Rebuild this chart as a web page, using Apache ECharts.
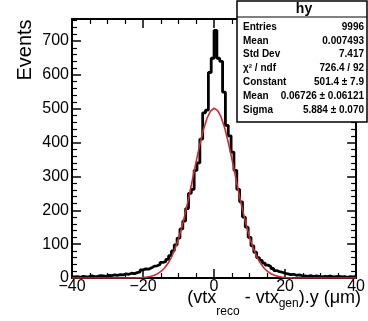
<!DOCTYPE html>
<html><head><meta charset="utf-8">
<script src="https://cdn.jsdelivr.net/npm/echarts@6/dist/echarts.min.js"></script>
<style>html,body{margin:0;padding:0;background:#fff}#c{width:368px;height:321px}</style>
</head><body><div id="c"></div>
<script>
// ---- data ----
const binLow = -40;
const binHigh = 40;
const counts = [
  3,4,2,5,3,4,6,4,5,7,6,5,8,7,9,8,10,9,12,
  11,14,13,16,18,24,27,26,30,35,36,40,46,48,55,
  66,80,98,118,145,168,205,250,262,318,340,410,488,496,607,649,731,649,640,549,451,420,372,318,262,225,180,150,120,95,76,60,52,
  44,38,34,28,22,19,17,14,12,10,11,8,9,7,
  6,5,7,4,6,5,3,5,4,6,3,4,5,3,4,2,4,3,5
];
const fitX = [-40,-30,-25,-22,-21,-20,-19,-18,-17,-16,-15,-14,-13,-12,-11,-10,-9,-8,-7,-6,-5,-4,-3,-2,-1,0,
  1,2,3,4,5,6,7,8,9,10,11,12,13,14,15,16,17,18,19,20,21,22,25,30,40];
const fitY = [0,0,0.05,0.4,0.8,1.5,2.6,4.5,7.5,12.0,18.9,28.8,42.6,61.2,85.5,116.0,153.0,195.9,243.7,294.7,346.1,394.9,437.7,471.4,493.2,501.4,
  495.1,475.1,442.9,401.0,352.8,301.6,250.4,202.1,158.4,120.6,89.2,64.1,44.7,30.4,20.0,12.8,8.0,4.8,2.8,1.6,0.9,0.5,0.05,0,0];
const xMin = -40, xMax = 40, xStep = 20;
const yMin = 0, yMax = 765, yStep = 100;
const histName = 'hy';
const statLabels = ['Entries','Mean','Std Dev','\u03C7\u00B2 / ndf','Constant','Mean','Sigma'];
const statValues = ['9996','0.007493','7.417','726.4 / 92','501.4 \u00B1 7.9','0.06726 \u00B1 0.06121','5.884 \u00B1 0.070'];
const yTitle = 'Events';
const xTitle = '(vtx{a|reco} - vtx{b|gen}).y (\u03BCm)';

// ---- build ----
const bw = (binHigh - binLow) / counts.length;
const histData = counts.map((v, i) => [binLow + i * bw, v]);
histData.push([binHigh, counts[counts.length - 1]]);
const fitData = fitX.map((x, i) => [x, fitY[i]]);

const FF = 'Liberation Sans';
function axisBase(pos, isX, showLabel) {
  return {
    type: 'value', position: pos,
    min: isX ? xMin : yMin, max: isX ? xMax : yMax, interval: isX ? xStep : yStep,
    axisLine: {show: true, onZero: false, lineStyle: {color: '#000', width: 2}},
    axisTick: {show: true, inside: true, length: 9, lineStyle: {color: '#000', width: 1.5}},
    minorTick: {show: true, splitNumber: isX ? 4 : 5, length: 5, lineStyle: {color: '#000', width: 1.2}},
    splitLine: {show: false},
    axisLabel: {show: showLabel, color: '#000', fontSize: 16, fontFamily: FF, margin: isX ? 1 : 3,
      showMaxLabel: isX ? true : false,
      formatter: v => String(v).replace('-', '\u2212')}
  };
}

const graphics = [
  {type: 'text', x: 25, y: 50, rotation: Math.PI / 2, z: 100,
   style: {text: yTitle, fontSize: 20, fontFamily: FF, fill: '#000', textAlign: 'center', textVerticalAlign: 'middle'}},
  {type: 'text', x: 361, y: 298, z: 100,
   style: {text: xTitle, fontSize: 18, fontFamily: FF, fill: '#000', textAlign: 'right', textVerticalAlign: 'middle',
     rich: {a: {fontSize: 12, fontFamily: FF, padding: [28, 0, 0, 0]}, b: {fontSize: 12, fontFamily: FF, padding: [12, 0, 0, 0]}}}},
  {type: 'rect', z: 100, shape: {x: 237, y: 1, width: 130, height: 121}, style: {fill: '#fff', stroke: '#000', lineWidth: 1.5}},
  {type: 'line', z: 101, shape: {x1: 237, y1: 17, x2: 367, y2: 17}, style: {stroke: '#000', lineWidth: 1}},
  {type: 'text', z: 101, x: 304, y: 9, style: {text: histName, fontSize: 14, fontWeight: 'bold', fontFamily: FF, fill: '#000', textAlign: 'center', textVerticalAlign: 'middle'}}
];
statLabels.forEach((l, i) => {
  const y = 27 + i * 13.8;
  graphics.push({type: 'text', z: 101, x: 243, y: y, style: {text: l, fontSize: 10, fontWeight: 'bold', fontFamily: FF, fill: '#000', textAlign: 'left', textVerticalAlign: 'middle'}});
  graphics.push({type: 'text', z: 101, x: 364, y: y, style: {text: statValues[i], fontSize: 10, fontWeight: 'bold', fontFamily: FF, fill: '#000', textAlign: 'right', textVerticalAlign: 'middle'}});
});

const chart = echarts.init(document.getElementById('c'), null, {renderer: 'canvas'});
chart.setOption({
  animation: false,
  backgroundColor: '#fff',
  grid: {left: 72, right: 8, top: 19, bottom: 43, containLabel: false},
  xAxis: [axisBase('bottom', true, true), axisBase('top', true, false)],
  yAxis: [axisBase('left', false, true), axisBase('right', false, false)],
  series: [
    {type: 'line', xAxisIndex: 0, yAxisIndex: 0, data: histData, step: 'end', showSymbol: false,
     lineStyle: {color: '#000', width: 2.8}, clip: true},
    {type: 'line', xAxisIndex: 0, yAxisIndex: 0, data: fitData, showSymbol: false, smooth: false,
     lineStyle: {color: '#cc2a36', width: 1.6}, clip: true}
  ],
  graphic: graphics
});
</script></body></html>
